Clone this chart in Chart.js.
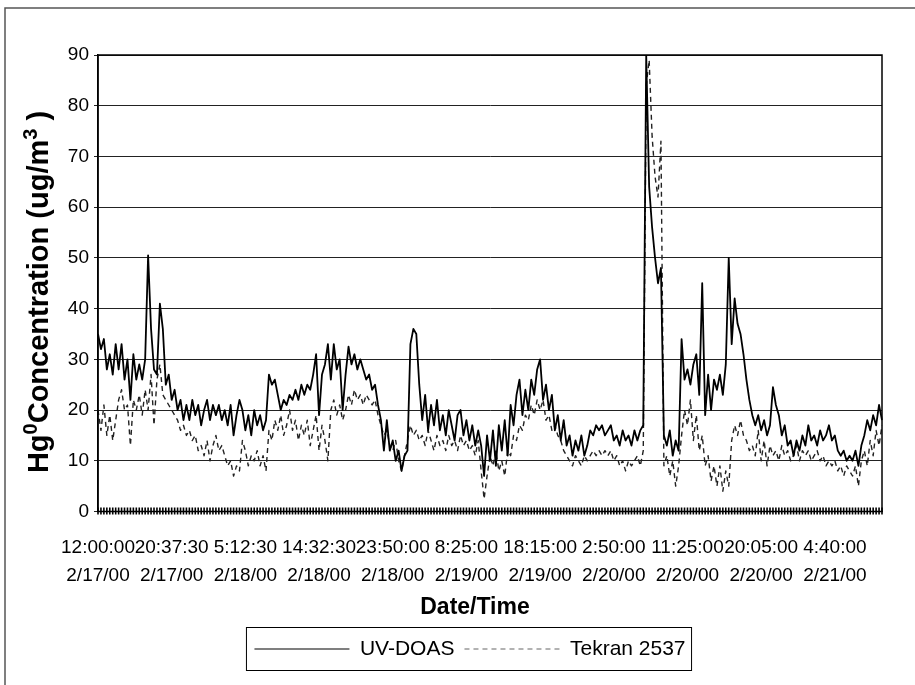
<!DOCTYPE html>
<html lang="en">
<head>
<meta charset="UTF-8" />
<title>Hg0 Concentration</title>
<script src="https://cdn.jsdelivr.net/npm/chart.js"></script>
<style>
  html, body { margin: 0; padding: 0; background: #fff; }
  canvas { display: block; }
</style>
</head>
<body>
<canvas id="chart" width="915" height="685"></canvas>
<script>
  // category labels, one pair every 25 samples
  const timeLabels = ['12:00:00', '20:37:30', '5:12:30', '14:32:30', '23:50:00', '8:25:00',
                      '18:15:00', '2:50:00', '11:25:00', '20:05:00', '4:40:00'];
  const dateLabels = ['2/17/00', '2/17/00', '2/18/00', '2/18/00', '2/18/00', '2/19/00',
                      '2/19/00', '2/20/00', '2/20/00', '2/20/00', '2/21/00'];
  const labelEvery = 25;

  // Hg0 readings (ug/m3)
  const uvDoas = [
    35, 32, 34, 28, 31, 27, 33, 28, 33, 26,
    30, 22, 31, 26, 29, 26, 30, 50.5, 36, 28,
    27, 41, 36, 25, 27, 22, 24, 20, 22, 18,
    21, 18, 22, 19, 21, 17, 20, 22, 18, 21,
    19, 21, 18, 20, 17, 21, 15, 19, 22, 20,
    16, 19, 15, 20, 17, 19, 16, 18, 27, 25,
    26, 23, 20, 22, 21, 23, 22, 24, 22, 25,
    23, 25, 24, 27, 31, 19, 27, 29, 33, 26,
    33, 28, 30, 20, 27, 32.5, 29, 31, 28, 30,
    28, 26, 27, 24, 25, 21, 18, 12, 18, 12,
    14, 10, 12, 8, 11, 12, 33, 36, 35, 25,
    18, 23, 16, 21, 17, 22, 16, 19, 15, 20,
    17, 14, 19, 20, 15, 18, 14, 17, 13, 16,
    13, 7, 15, 10, 16, 9, 17, 12, 18, 11,
    21, 17, 23, 26, 19, 24, 20, 26, 23, 28,
    30, 22, 25, 20, 23, 16, 19, 14, 18, 13,
    15, 11, 14, 12, 15, 11, 13, 16, 15, 17,
    16, 17, 15, 16, 17, 14, 15, 13, 16, 14,
    15, 13, 16, 14, 16, 17, 90, 64, 56, 50,
    45, 48, 15, 13, 16, 11, 14, 12, 34, 26,
    28, 25, 29, 31, 23, 45, 19, 27, 20, 26,
    24, 27, 23, 29, 50, 33, 42, 37, 35, 31,
    26, 22, 19, 17, 19, 16, 18, 15, 17, 24.5,
    21, 19, 15, 17, 13, 14, 11, 14, 12, 15,
    13, 17, 14, 15, 13, 16, 14, 15, 17, 14,
    15, 12, 11, 12, 10, 11, 10, 12, 9, 13,
    15, 18, 16, 19, 17, 21, 18
  ];
  const tekran2537 = [
    20, 16, 21, 15, 19, 14, 18, 22, 24, 20,
    21, 13, 22, 20, 23, 19, 24, 20, 27, 17,
    26, 29, 23, 22, 21, 20, 19, 18, 16, 17,
    15, 16, 14, 15, 12, 13, 11, 14, 10, 13,
    15, 12, 13, 11, 9, 10, 7, 9, 8, 14,
    12, 9, 11, 10, 12, 9, 11, 8, 16, 14,
    18, 16, 19, 15, 17, 20, 16, 18, 14, 17,
    15, 18, 13, 16, 19, 12, 17, 14, 10, 20,
    22, 19, 21, 18, 20, 23, 21, 24, 22, 23,
    21, 23, 22, 21, 22, 19, 17, 15, 16, 13,
    12, 14, 10, 8, 11, 14, 17, 15, 16, 14,
    15, 13, 16, 14, 12, 15, 13, 14, 12, 15,
    13, 14, 12, 15, 13, 14, 12, 13, 11, 14,
    8, 2.5, 7, 11, 9, 12, 8, 10, 7, 12,
    11, 15, 14, 17, 16, 19, 18, 21, 19, 22,
    20, 22, 18, 19, 16, 17, 15, 14, 12, 11,
    10, 9, 11, 10, 9, 11, 10, 11, 12, 11,
    12, 11, 12, 11, 12, 10, 11, 9, 10, 8,
    10, 9, 10, 11, 9, 12, 84, 89, 74, 66,
    62, 73, 9, 11, 7, 10, 5, 9, 15, 20,
    17, 22, 14, 19, 12, 15, 9, 11, 6, 9,
    5, 9, 4, 8, 5, 14, 17, 15, 18, 15,
    14, 12, 13, 11, 16, 10, 14, 9, 13, 11,
    12, 10, 13, 11, 12, 10, 11, 13, 10, 12,
    11, 12, 10, 11, 12, 10, 11, 9, 10, 9,
    10, 8, 9, 7, 9, 8, 7, 9, 5, 10,
    12, 9, 14, 11, 16, 13, 17
  ];

  const FONT = "'Liberation Sans', Arial, sans-serif";
  Chart.defaults.font.family = FONT;
  Chart.defaults.color = '#000';

  const categories = uvDoas.map((v, i) =>
    i % labelEvery === 0 ? [timeLabels[i / labelEvery], dateLabels[i / labelEvery]] : '');

  // outer frame, plot border, crossing tick marks, axis titles, legend box
  const extras = {
    id: 'extras',
    afterLayout(chart) {
      const lg = chart.legend;
      const dx = 470 - (lg.left + lg.right) / 2;
      lg.left += dx;
      lg.right += dx;
    },
    beforeDraw(chart) {
      const ctx = chart.ctx;
      ctx.save();
      ctx.fillStyle = '#fff';
      ctx.fillRect(0, 0, chart.width, chart.height);
      ctx.strokeStyle = '#555';
      ctx.lineWidth = 1.5;
      ctx.strokeRect(5, 8, chart.width + 40, chart.height + 40);
      ctx.restore();
    },
    afterDraw(chart) {
      const ctx = chart.ctx;
      const area = chart.chartArea;
      const xs = chart.scales.x;
      ctx.save();

      ctx.strokeStyle = '#000';
      ctx.lineWidth = 1.5;
      ctx.strokeRect(area.left, area.top, area.right - area.left, area.bottom - area.top);

      ctx.lineWidth = 1.6;
      ctx.beginPath();
      xs.ticks.forEach((t, i) => {
        const x = xs.getPixelForTick(i);
        ctx.moveTo(x, area.bottom - 4);
        ctx.lineTo(x, area.bottom + 3);
      });
      ctx.stroke();

      ctx.fillStyle = '#000';
      ctx.font = 'bold 23px ' + FONT;
      ctx.textAlign = 'center';
      ctx.textBaseline = 'middle';
      ctx.fillText('Date/Time', 475, 608);

      // rotated y title, superscript 0 and 3
      const big = 'bold 29px ' + FONT;
      const small = 'bold 20px ' + FONT;
      const parts = [['Hg', false], ['0', true], ['Concentration (ug/m', false], ['3', true], [' )', false]];
      let total = 0;
      parts.forEach(p => { ctx.font = p[1] ? small : big; total += ctx.measureText(p[0]).width; });
      ctx.translate(27, 292);
      ctx.rotate(-Math.PI / 2);
      ctx.textBaseline = 'alphabetic';
      ctx.textAlign = 'left';
      let x = -total / 2;
      parts.forEach(p => {
        ctx.font = p[1] ? small : big;
        ctx.fillText(p[0], x, p[1] ? 10 : 21);
        x += ctx.measureText(p[0]).width;
      });
      ctx.setTransform(1, 0, 0, 1, 0, 0);

      // box round the legend
      const boxes = chart.legend.legendHitBoxes;
      if (boxes && boxes.length) {
        const l = Math.min(...boxes.map(b => b.left)) - 8;
        const r = Math.max(...boxes.map(b => b.left + b.width)) + 6;
        const t = boxes[0].top - 11;
        const h = boxes[0].height + 22;
        ctx.strokeStyle = '#000';
        ctx.lineWidth = 1;
        ctx.strokeRect(l, t, r - l, h);
      }
      ctx.restore();
    }
  };

  new Chart(document.getElementById('chart'), {
    type: 'line',
    data: {
      labels: categories,
      datasets: [
        {
          label: 'UV-DOAS',
          data: uvDoas,
          borderColor: '#000',
          borderWidth: 1.8,
          pointRadius: 0,
          tension: 0,
          borderJoinStyle: 'round'
        },
        {
          label: 'Tekran 2537',
          data: tekran2537,
          borderColor: '#222',
          borderWidth: 1.4,
          borderDash: [5, 4],
          pointRadius: 0,
          tension: 0,
          borderJoinStyle: 'round'
        }
      ]
    },
    options: {
      responsive: false,
      devicePixelRatio: 1,
      animation: false,
      events: [],
      layout: { padding: { left: 0, right: 33, top: 55, bottom: 15.5 } },
      plugins: {
        tooltip: { enabled: false },
        legend: {
          position: 'bottom',
          labels: {
            color: '#000',
            font: { size: 21 },
            usePointStyle: true,
            pointStyle: 'line',
            pointStyleWidth: 95,
            padding: 10,
            generateLabels(chart) {
              const items = Chart.defaults.plugins.legend.labels.generateLabels(chart);
              items.forEach(item => {
                const ds = chart.data.datasets[item.datasetIndex];
                item.lineDash = ds.borderDash || [];
                item.lineWidth = 1.2;
                item.strokeStyle = ds.borderDash ? '#666' : '#000';
              });
              return items;
            }
          }
        }
      },
      scales: {
        x: {
          type: 'category',
          grid: { display: false },
          border: { display: true, color: '#000', width: 1 },
          ticks: {
            autoSkip: false,
            maxRotation: 0,
            minRotation: 0,
            padding: 14,
            color: '#000',
            font: { size: 19, lineHeight: 1.5 }
          },
          afterFit(scale) { scale.height = 117; }
        },
        y: {
          min: 0,
          max: 90,
          ticks: { stepSize: 10, padding: 5, color: '#000', font: { size: 19 } },
          grid: { color: '#222', lineWidth: 1, tickLength: 4 },
          border: { color: '#000', width: 1.5 },
          afterFit(scale) { scale.width = 98; }
        }
      }
    },
    plugins: [extras]
  });
</script>
</body>
</html>
